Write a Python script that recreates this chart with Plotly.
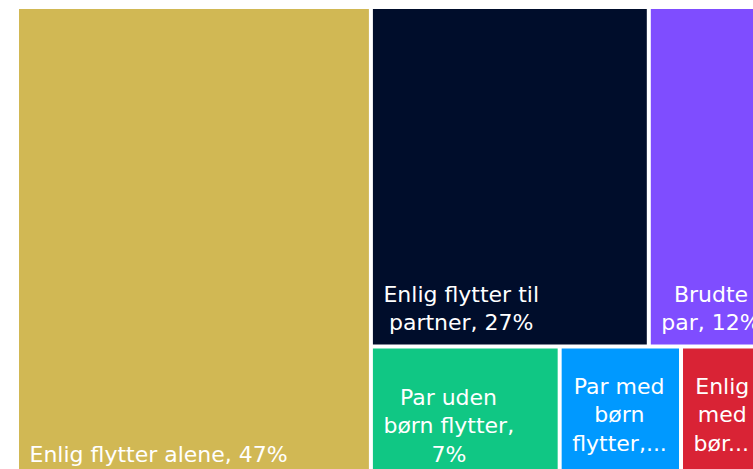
import plotly.graph_objects as go

# Share of moves by household type (percent)
categories = [
    "Enlig flytter alene",
    "Enlig flytter til partner",
    "Brudte par",
    "Par uden børn flytter",
    "Par med børn flytter",
    "Enlig med børn flytter",
]
shares = [47.0, 26.6, 11.6, 7.0, 4.5, 3.3]
colors = ["#D1B854", "#000D2B", "#7F4DFF", "#10C784", "#0099FF", "#D92335"]

total = sum(shares)
pct = [f"{v / total * 100:.0f}%" for v in shares]

FONT = "DejaVu Sans"
FONT_SIZE = 22
NBSP = "\u00a0"

# DejaVu Sans advance widths (font units, 2048 per em) for the glyphs used
ADVANCE = {
    " ": 651, NBSP: 651, ",": 651, ".": 651, "%": 1946,
    "B": 1405, "E": 1294, "P": 1235,
    "a": 1255, "b": 1300, "d": 1300, "e": 1260, "f": 721, "g": 1300,
    "i": 569, "l": 569, "m": 1995, "n": 1298, "o": 1253, "p": 1300,
    "r": 842, "t": 803, "u": 1298, "y": 1212, "ø": 1253,
}


def text_width(s, size=FONT_SIZE):
    return sum(ADVANCE.get(c, 1303) for c in s) / 2048 * size


def gap(px):
    """Invisible horizontal gap of roughly `px` pixels."""
    space = ADVANCE[NBSP] / 2048 * FONT_SIZE
    n = int(px // space)
    rest = px - n * space
    out = NBSP * n
    if rest > 0.5:
        size = rest / (ADVANCE[NBSP] / 2048)
        out += f"<span style='font-size:{size:.1f}px'>{NBSP}</span>"
    return out


def label(lines, indent=7.5, lift=0):
    """Centre the wrapped lines on each other and keep the block at the tile's left."""
    widest = max(text_width(s) for s in lines)
    body = "<br>".join(gap(indent + (widest - text_width(s)) / 2) + s for s in lines)
    # a tall trailing space raises the block above the tile's bottom edge
    lift_size = 45 + lift / 0.236
    return body + f"<span style='font-size:{lift_size:.0f}px'>{NBSP}</span>"


tile_text = [
    label([f"Enlig flytter alene, {pct[0]}"]),
    label(["Enlig flytter til", f"partner, {pct[1]}"]),
    label(["Brudte", f"par, {pct[2]}"]),
    label(["Par uden", "børn flytter,", pct[3]]),
    label(["Par med", "børn", "flytter,..."], lift=11),
    label(["Enlig", "med", "bør..."], lift=11),
]

fig = go.Figure(
    go.Treemap(
        labels=categories,
        parents=[""] * len(categories),
        values=shares,
        text=tile_text,
        texttemplate="%{text}",
        textposition="bottom left",
        textfont=dict(family=FONT, size=FONT_SIZE, color="white"),
        marker=dict(colors=colors, line=dict(width=0), pad=dict(t=0, l=0, r=0, b=0)),
        tiling=dict(packing="squarify", squarifyratio=1.4, pad=4),
        pathbar=dict(visible=False),
        sort=True,
        hoverinfo="skip",
    )
)

fig.update_layout(
    width=768,
    height=476,
    margin=dict(l=19, r=0, t=9, b=0),
    paper_bgcolor="white",
    uniformtext=dict(minsize=FONT_SIZE, mode="show"),
)

fig.write_html(
    "out.html",
    post_script="document.body.style.margin='0';document.body.style.overflow='hidden';",
)
